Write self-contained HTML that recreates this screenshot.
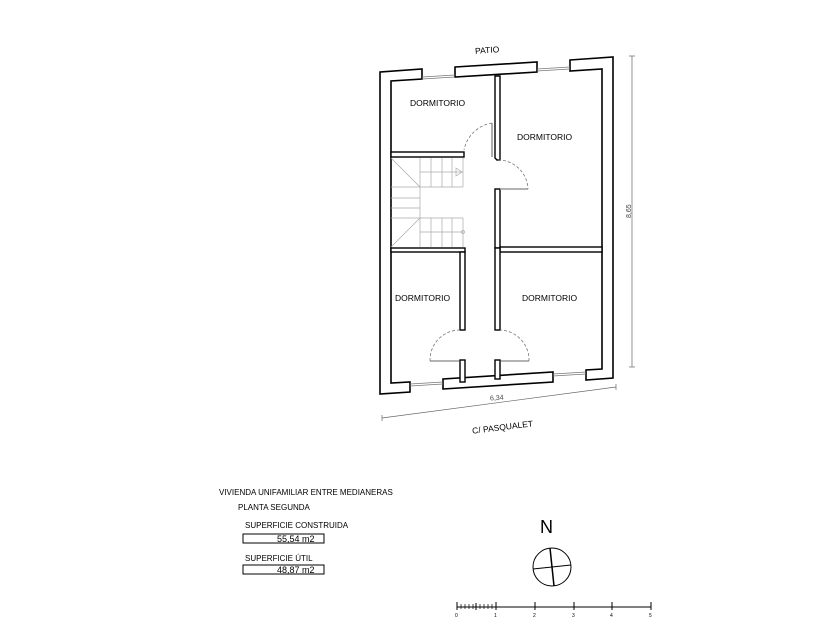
<!DOCTYPE html>
<html><head><meta charset="utf-8"><style>
html,body{margin:0;padding:0;background:#fff;}
svg{display:block;font-family:"Liberation Sans",Arial,sans-serif;}
</style></head><body>
<svg width="835" height="629" viewBox="0 0 835 629" xmlns="http://www.w3.org/2000/svg">
<rect width="835" height="629" fill="#fff"/>
<g fill="#fff" stroke="#000" stroke-width="1.6">
<!-- outer walls -->
<polygon points="380,72 422,69 422,79 391,81 391,383 410,382 410,392 380,394"/>
<polygon points="455,67 537,62 537,72 455,77"/>
<polygon points="570,60 613,57 613,378 586,380 586,370 602,369 602,69 570,71"/>
<polygon points="443,389 553,382 553,372 443,379"/>
</g>
<!-- windows -->
<g stroke="#777" stroke-width="0.8" fill="none">
<line x1="422" y1="77" x2="455" y2="75"/><line x1="422" y1="79" x2="455" y2="77"/>
<line x1="537" y1="69" x2="570" y2="67"/><line x1="537" y1="71" x2="570" y2="69"/>
<line x1="410" y1="384" x2="443" y2="382"/><line x1="410" y1="386" x2="443" y2="384"/>
<line x1="553" y1="374" x2="586" y2="372"/><line x1="553" y1="376" x2="586" y2="374"/>
</g>
<g fill="#fff" stroke="#000" stroke-width="1.4">
<!-- top-left room bottom wall -->
<rect x="391" y="152" width="73" height="5"/>
<!-- central right wall top -->
<polygon points="495,76 500,76 500,160 497,160 495,158"/>
<rect x="495" y="189" width="5" height="59"/>
<!-- top right room bottom wall -->
<rect x="500" y="247" width="102" height="5"/>
<!-- bottom left room top -->
<rect x="391" y="248" width="74" height="4"/>
<rect x="460" y="252" width="5" height="78"/>
<rect x="460" y="360" width="5" height="22"/>
<rect x="495" y="248" width="5" height="82"/>
<rect x="495" y="360" width="5" height="19"/>
</g>
<!-- door leaves -->
<g stroke="#999" stroke-width="1.6">
<line x1="492" y1="123" x2="492" y2="157"/>
<line x1="500" y1="189" x2="528" y2="189"/>
<line x1="430" y1="361" x2="459" y2="361"/>
<line x1="501" y1="361" x2="529" y2="361"/>
</g>
<g stroke="#777" stroke-width="0.8" fill="none" stroke-dasharray="3,2">
<path d="M492,123 A34,34 0 0 0 464,150"/>
<path d="M498,160 A30,30 0 0 1 528,189"/>
<path d="M430,361 A30,30 0 0 1 460,330"/>
<path d="M529,361 A30,30 0 0 0 500,330"/>
</g>
<!-- stairs -->
<g stroke="#aaa" stroke-width="0.7" fill="none">
<line x1="420" y1="158" x2="420" y2="187"/><line x1="431" y1="158" x2="431" y2="187"/>
<line x1="442" y1="158" x2="442" y2="187"/><line x1="452" y1="158" x2="452" y2="187"/>
<line x1="420" y1="172" x2="463" y2="172"/>
<line x1="391" y1="158" x2="420" y2="187"/>
<line x1="391" y1="187" x2="463" y2="187"/>
<line x1="391" y1="198" x2="420" y2="198"/><line x1="391" y1="208" x2="420" y2="208"/>
<line x1="391" y1="218" x2="463" y2="218"/>
<line x1="420" y1="218" x2="391" y2="247"/>
<line x1="420" y1="187" x2="420" y2="247"/>
<line x1="431" y1="218" x2="431" y2="247"/><line x1="442" y1="218" x2="442" y2="247"/>
<line x1="452" y1="218" x2="452" y2="247"/>
<line x1="420" y1="232" x2="463" y2="232"/>
<line x1="463" y1="158" x2="463" y2="187"/><line x1="463" y1="218" x2="463" y2="247"/>
<polygon points="456,168 462,172 456,176"/>
<circle cx="463" cy="232" r="1.5"/>
</g>
<!-- dims -->
<g stroke="#666" stroke-width="0.7" fill="none">
<line x1="632" y1="56" x2="632" y2="367"/>
<line x1="629" y1="56" x2="635" y2="56"/><line x1="629" y1="367" x2="635" y2="367"/>
<line x1="382" y1="418" x2="616" y2="387"/>
<line x1="382" y1="415" x2="382" y2="421"/><line x1="616" y1="384" x2="616" y2="390"/>
</g>
<g font-size="8.5" fill="#000">
<text x="475" y="53" transform="rotate(-4 487 50)">PATIO</text>
<text x="410" y="106">DORMITORIO</text>
<text x="517" y="140">DORMITORIO</text>
<text x="395" y="301">DORMITORIO</text>
<text x="522" y="301">DORMITORIO</text>
<text x="472" y="431" transform="rotate(-7 495 428)">C/ PASQUALET</text>
<text x="490" y="400" font-size="7" fill="#444" transform="rotate(-4 497 398)">6,34</text>
<text x="627" y="222" font-size="7" fill="#444" transform="rotate(-90 627 218)">8,65</text>
<text x="219" y="495" font-size="8">VIVIENDA UNIFAMILIAR ENTRE MEDIANERAS</text>
<text x="238" y="510" font-size="8">PLANTA SEGUNDA</text>
<text x="245" y="528" font-size="8">SUPERFICIE CONSTRUIDA</text>
<text x="245" y="561" font-size="8">SUPERFICIE ÚTIL</text>
<text x="277" y="542" font-size="9">55,54 m2</text>
<text x="277" y="573" font-size="9">48,87 m2</text>
<text x="540" y="533" font-size="18">N</text>
</g>
<g fill="none" stroke="#000" stroke-width="1">
<rect x="243" y="534" width="81" height="9"/>
<rect x="243" y="565" width="81" height="9"/>
<circle cx="552" cy="567" r="19"/>
<line x1="550" y1="548" x2="554" y2="586" stroke-width="1.5"/>
<line x1="533" y1="569" x2="571" y2="565"/>
<line x1="457" y1="607" x2="651" y2="607"/>
<line x1="457" y1="602" x2="457" y2="610"/><line x1="496" y1="602" x2="496" y2="610"/>
<line x1="535" y1="602" x2="535" y2="610"/><line x1="574" y1="602" x2="574" y2="610"/>
<line x1="612" y1="602" x2="612" y2="610"/><line x1="651" y1="602" x2="651" y2="610"/>
<line x1="476" y1="603" x2="476" y2="610"/>
</g>
<g stroke="#000" stroke-width="0.7">
<line x1="461" y1="604" x2="461" y2="609"/><line x1="465" y1="604" x2="465" y2="609"/>
<line x1="469" y1="604" x2="469" y2="609"/><line x1="473" y1="604" x2="473" y2="609"/>
<line x1="480" y1="604" x2="480" y2="609"/><line x1="484" y1="604" x2="484" y2="609"/>
<line x1="488" y1="604" x2="488" y2="609"/><line x1="492" y1="604" x2="492" y2="609"/>
</g>
<g font-size="5" fill="#000">
<text x="455" y="617">0</text><text x="494" y="617">1</text><text x="533" y="617">2</text>
<text x="572" y="617">3</text><text x="610" y="617">4</text><text x="649" y="617">5</text>
</g>
</svg>
</body></html>
